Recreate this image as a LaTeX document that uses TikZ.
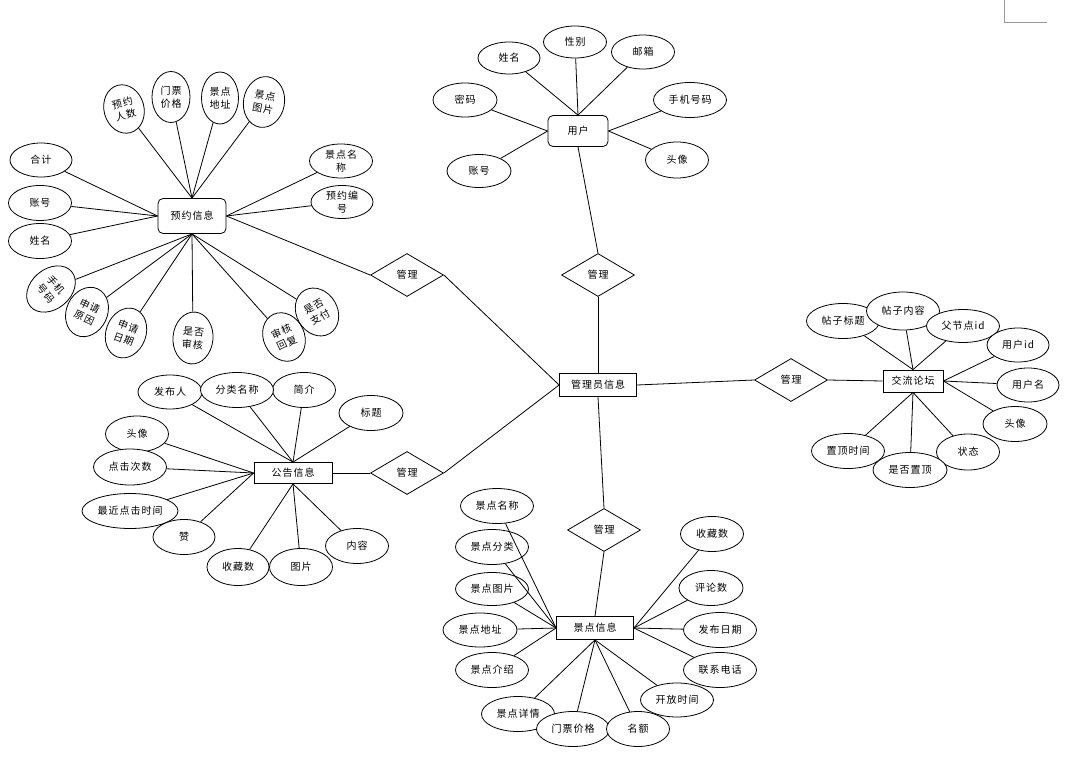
\documentclass[tikz,border=0pt]{standalone}
\usepackage{fontspec}
\newfontfamily\cjk[LetterSpace=10]{Noto Sans CJK SC}
\usetikzlibrary{shapes.geometric}
\tikzset{
  base/.style={draw=black, line width=0.8pt, inner sep=0pt, font=\cjk\fontsize{10}{13}\selectfont, align=center, text=black, fill=white},
  attr/.style 2 args={base, ellipse, minimum width=#1pt, minimum height=#2pt},
  rbox/.style 2 args={base, rectangle, rounded corners=5pt, minimum width=#1pt, minimum height=#2pt},
  sbox/.style 2 args={base, rectangle, minimum width=#1pt, minimum height=#2pt},
  rel/.style={base, diamond, minimum width=73pt, minimum height=43pt},
  link/.style={draw=black, line width=0.8pt},
  corner/.style={draw=black!40, line width=1pt}
}
\begin{document}
\begin{tikzpicture}[x=1pt, y=-1pt]
\useasboundingbox (0,0) rectangle (1072,763);

% corner mark
\coordinate (c1) at (1004,0);
\coordinate (c2) at (1004,22);
\coordinate (c3) at (1047,22);
\draw[corner] (c1) -- (c2) -- (c3);

% ===== 预约信息 =====
\node[rbox={68}{35}] (yy) at (192,216) {预约信息};
\node[attr={40}{49}, rotate=15] (yy1) at (124,109) {预约\\人数};
\node[attr={38}{51}] (yy2) at (171,97) {门票\\价格};
\node[attr={37}{52}] (yy3) at (220,98) {景点\\地址};
\node[attr={41}{51}, rotate=-10] (yy4) at (264,102) {景点\\图片};
\node[attr={62}{34}] (yy5) at (41,160) {合计};
\node[attr={63}{35}] (yy6) at (40,203) {账号};
\node[attr={63}{35}] (yy7) at (40,241) {姓名};
\node[attr={40}{54}, rotate=-50] (yy8) at (51,289) {手机\\号码};
\node[attr={41}{51}, rotate=-25] (yy9) at (87,312) {申请\\原因};
\node[attr={40}{51}, rotate=-20] (yy10) at (126,333) {申请\\日期};
\node[attr={40}{52}, rotate=-5] (yy11) at (193,338) {是否\\审核};
\node[attr={41}{50}, rotate=25] (yy12) at (284,337) {审核\\回复};
\node[attr={41}{50}, rotate=30] (yy13) at (317,312) {是否\\支付};
\node[attr={63}{34}] (yy14) at (341,161) {景点名\\称};
\node[attr={62}{33}] (yy15) at (342,202) {预约编\\号};

\foreach \n in {yy1,yy2,yy3,yy4} \draw[link] (\n) -- (yy.north);
\foreach \n in {yy5,yy6,yy7} \draw[link] (\n) -- (yy.west);
\foreach \n in {yy8,yy9,yy10,yy11,yy12,yy13} \draw[link] (\n) -- (yy.south);
\foreach \n in {yy14,yy15} \draw[link] (\n) -- (yy.east);

% ===== 用户 =====
\node[rbox={60}{31}] (yh) at (578,131) {用户};
\node[attr={62}{32}] (yh1) at (509,58) {姓名};
\node[attr={63}{32}] (yh2) at (575,42) {性别};
\node[attr={63}{34}] (yh3) at (643,52) {邮箱};
\node[attr={64}{34}] (yh4) at (465,100) {密码};
\node[attr={73}{35}] (yh5) at (690,100) {手机号码};
\node[attr={64}{33}] (yh6) at (479,171) {账号};
\node[attr={63}{36}] (yh7) at (677,160) {头像};
\foreach \n in {yh1,yh2,yh3} \draw[link] (\n) -- (yh.north);
\foreach \n in {yh4,yh6} \draw[link] (\n) -- (yh.west);
\foreach \n in {yh5,yh7} \draw[link] (\n) -- (yh.east);

% ===== 管理员信息 and relations =====
\node[sbox={77}{23}] (gly) at (598,385) {管理员信息};
\node[rel] (r1) at (407,275) {管理};
\node[rel] (r2) at (598,275) {管理};
\node[rel] (r3) at (791,380) {管理};
\node[rel] (r4) at (407,473) {管理};
\node[rel] (r5) at (604,530) {管理};

% ===== 交流论坛 =====
\node[sbox={60}{22}] (lt) at (913,381) {交流论坛};
\node[attr={73}{35}] (lt1) at (843,321) {帖子标题};
\node[attr={73}{38}] (lt2) at (903,311) {帖子内容};
\node[attr={73}{33}] (lt3) at (963,326) {父节点id};
\node[attr={62}{34}] (lt4) at (1018,345) {用户id};
\node[attr={62}{34}] (lt5) at (1028,385) {用户名};
\node[attr={64}{35}] (lt6) at (1015,424) {头像};
\node[attr={73}{35}] (lt9) at (848,451) {置顶时间};
\node[attr={63}{36}] (lt7) at (968,452) {状态};
\node[attr={74}{35}] (lt8) at (910,470) {是否置顶};
\foreach \n in {lt1,lt2,lt3} \draw[link] (\n) -- (lt.north);
\foreach \n in {lt4,lt5,lt6} \draw[link] (\n) -- (lt.east);
\foreach \n in {lt7,lt8,lt9} \draw[link] (\n) -- (lt.south);

% ===== 公告信息 =====
\node[sbox={78}{21}] (gg) at (293,473) {公告信息};
\node[attr={64}{34}] (gg1) at (170,392) {发布人};
\node[attr={63}{35}] (gg3) at (304,390) {简介};
\node[attr={73}{35}] (gg2) at (237,390) {分类名称};
\node[attr={64}{35}] (gg4) at (371,413) {标题};
\node[attr={63}{36}] (gg5) at (137,434) {头像};
\node[attr={73}{36}] (gg6) at (130,467) {点击次数};
\node[attr={96}{35}] (gg7) at (130,511) {最近点击时间};
\node[attr={62}{35}] (gg8) at (184,537) {赞};
\node[attr={62}{37}] (gg9) at (238,567) {收藏数};
\node[attr={63}{37}] (gg10) at (301,567) {图片};
\node[attr={63}{35}] (gg11) at (357,546) {内容};
\foreach \n in {gg1,gg2,gg3,gg4} \draw[link] (\n) -- (gg.north);
\foreach \n in {gg5,gg6,gg7,gg8} \draw[link] (\n) -- (gg.west);
\foreach \n in {gg9,gg10,gg11} \draw[link] (\n) -- (gg.south);

% ===== 景点信息 =====
\node[sbox={77}{23}] (jd) at (595,628) {景点信息};
\node[attr={73}{35}] (jd1) at (497,506) {景点名称};
\node[attr={73}{35}] (jd2) at (492,547) {景点分类};
\node[attr={73}{33}] (jd3) at (492,589) {景点图片};
\node[attr={74}{34}] (jd4) at (480,630) {景点地址};
\node[attr={73}{35}] (jd5) at (492,670) {景点介绍};
\node[attr={73}{35}] (jd6) at (518,714) {景点详情};
\node[attr={73}{35}] (jd7) at (573,729) {门票价格};
\node[attr={63}{35}] (jd8) at (638,729) {名额};
\node[attr={73}{34}] (jd9) at (677,700) {开放时间};
\node[attr={73}{35}] (jd10) at (720,670) {联系电话};
\node[attr={73}{35}] (jd11) at (720,630) {发布日期};
\node[attr={64}{35}] (jd12) at (711,588) {评论数};
\node[attr={63}{35}] (jd13) at (712,534) {收藏数};
\foreach \n in {jd1,jd2,jd3,jd4,jd5} \draw[link] (\n) -- (jd.west);
\foreach \n in {jd6,jd7,jd8,jd9} \draw[link] (\n) -- (jd.south);
\foreach \n in {jd10,jd11,jd12,jd13} \draw[link] (\n) -- (jd.east);

% ===== relation links =====
\draw[link] (yy.east) -- (r1.west);
\draw[link] (r1.east) -- (gly.west);
\draw[link] (yh.south) -- (r2.north);
\draw[link] (r2.south) -- (gly.north);
\draw[link] (gly.east) -- (r3.west);
\draw[link] (r3.east) -- (lt.west);
\draw[link] (gly.west) -- (r4.east);
\draw[link] (r4.west) -- (gg.east);
\draw[link] (gly.south) -- (r5.north);
\draw[link] (r5.south) -- (jd.north);
\end{tikzpicture}
\end{document}
